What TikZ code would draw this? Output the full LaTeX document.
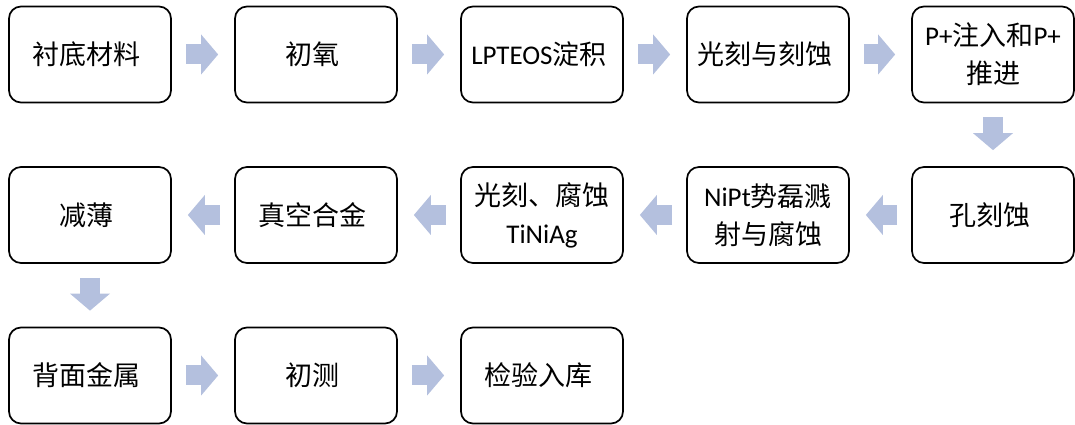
\documentclass[tikz,border=0pt]{standalone}
\usepackage{fontspec}
\setmainfont{Carlito}
\newfontfamily\zhfont{Noto Sans CJK SC}
\newcommand{\zh}[1]{{\zhfont #1}}
\usetikzlibrary{arrows.meta}
\definecolor{flowblue}{RGB}{180,192,222}

\begin{document}
\begin{tikzpicture}[x=1pt,y=1pt,
      stepbox/.style={draw,line width=1.7pt,rounded corners=12pt,
        minimum width=162pt,minimum height=96pt,align=center,
        font=\fontsize{27}{38}\selectfont},
      flow/.style={draw=flowblue,line width=20pt,shorten <=14pt,shorten >=16pt,
        -{Triangle[width=40pt,length=17pt,line width=0pt]}}]
      \useasboundingbox (0,0) rectangle (1075,425);

      % first row
      \node[stepbox] (sub)  at (90, 370.5) { \zh{衬底材料} };
      \node[stepbox] (oxi)  at (316,370.5) { \zh{初氧} };
      \node[stepbox] (teos) at (542,370.5) { LPTEOS\zh{淀积} };
      \node[stepbox] (lith) at (768,370.5) { \zh{光刻与刻蚀} };
      \node[stepbox] (pimp) at (993,370.5) { P+\zh{注入和}P+\\\zh{推进} };

      % second row
      \node[stepbox] (hole) at (993,210) { \zh{孔刻蚀} };
      \node[stepbox] (nipt) at (768,210) { NiPt\zh{势磊溅}\\\zh{射与腐蚀} };
      \node[stepbox] (tini) at (542,210) { \zh{光刻、腐蚀}\\TiNiAg };
      \node[stepbox] (allo) at (316,210) { \zh{真空合金} };
      \node[stepbox] (thin) at (90, 210) { \zh{减薄} };

      % third row
      \node[stepbox] (back) at (90, 49.5) { \zh{背面金属} };
      \node[stepbox] (test) at (316,49.5) { \zh{初测} };
      \node[stepbox] (stor) at (542,49.5) { \zh{检验入库} };

      \path
      (sub.east)  edge[flow] (oxi.west)
      (oxi.east)  edge[flow] (teos.west)
      (teos.east) edge[flow] (lith.west)
      (lith.east) edge[flow] (pimp.west)
      (pimp.south) edge[flow] (hole.north)

      (hole.west) edge[flow] (nipt.east)
      (nipt.west) edge[flow] (tini.east)
      (tini.west) edge[flow] (allo.east)
      (allo.west) edge[flow] (thin.east)
      (thin.south) edge[flow] (back.north)

      (back.east) edge[flow] (test.west)
      (test.east) edge[flow] (stor.west)
      ;

      \end{tikzpicture}
\end{document}
